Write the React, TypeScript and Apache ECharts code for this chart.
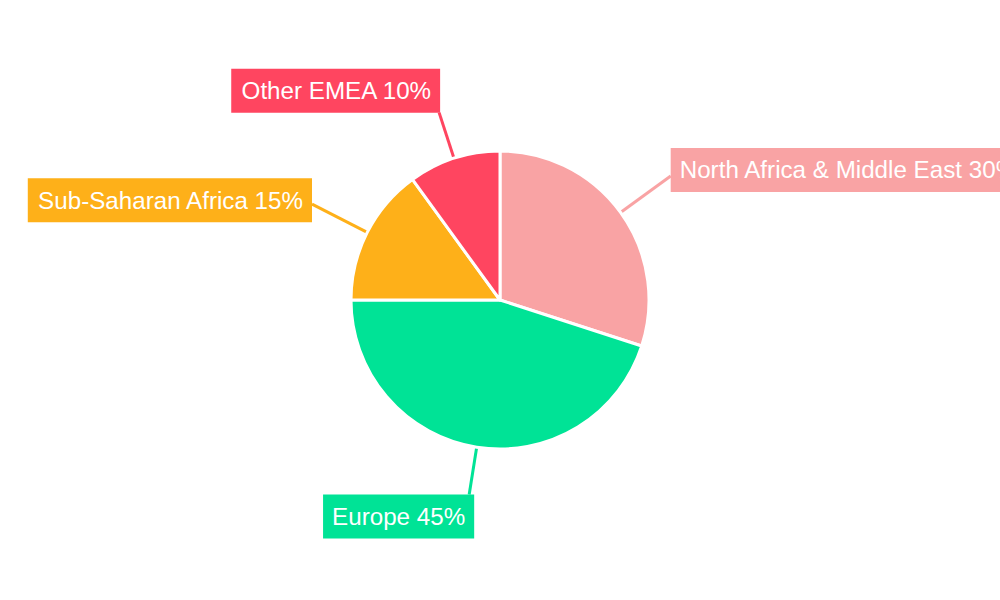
import React, { useEffect, useRef } from "react";
import * as echarts from "echarts";

const categories = ["North Africa & Middle East", "Europe", "Sub-Saharan Africa", "Other EMEA"];
const values = [30, 45, 15, 10];
const colors = ["#F9A3A4", "#00E396", "#FEB019", "#FF4560"];
const lineLengths = [62, 48, 62, 48];
const vAligns = ["middle", "top", "middle", "bottom"];
const labelShiftX = [0, 5, 0, 1];
const labelShiftY = [-6, 0, -4, 0];

export default function App() {
  const ref = useRef<HTMLDivElement>(null);
  useEffect(() => {
    document.body.style.margin = "0";
    const chart = echarts.init(ref.current!, null, { renderer: "svg" });
    chart.setOption({
      animation: false,
      series: [
        {
          type: "pie",
          center: ["50%", "50%"],
          radius: 149,
          startAngle: 90,
          clockwise: true,
          avoidLabelOverlap: false,
          itemStyle: { borderColor: "#ffffff", borderWidth: 3 },
          label: {
            show: true,
            position: "outside",
            formatter: "{b} {c}%",
            color: "#ffffff",
            fontFamily: "Liberation Sans, Arial, sans-serif",
            fontSize: 24.2,
            padding: [10, 9],
            distanceToLabelLine: 0,
          },
          labelLine: { show: true, length: 55, length2: 0, lineStyle: { width: 3 } },
          labelLayout: (params: any) => ({
            verticalAlign: vAligns[params.dataIndex],
            dx: labelShiftX[params.dataIndex],
            dy: labelShiftY[params.dataIndex],
          }),
          emphasis: { disabled: true },
          data: categories.map((name, i) => ({
            name,
            value: values[i],
            itemStyle: { color: colors[i] },
            label: { backgroundColor: colors[i] },
            labelLine: { length: lineLengths[i], length2: 0, lineStyle: { color: colors[i], width: 3 } },
          })),
        },
      ],
    });
    return () => chart.dispose();
  }, []);
  return <div ref={ref} style={{ width: 1000, height: 600 }} />;
}
